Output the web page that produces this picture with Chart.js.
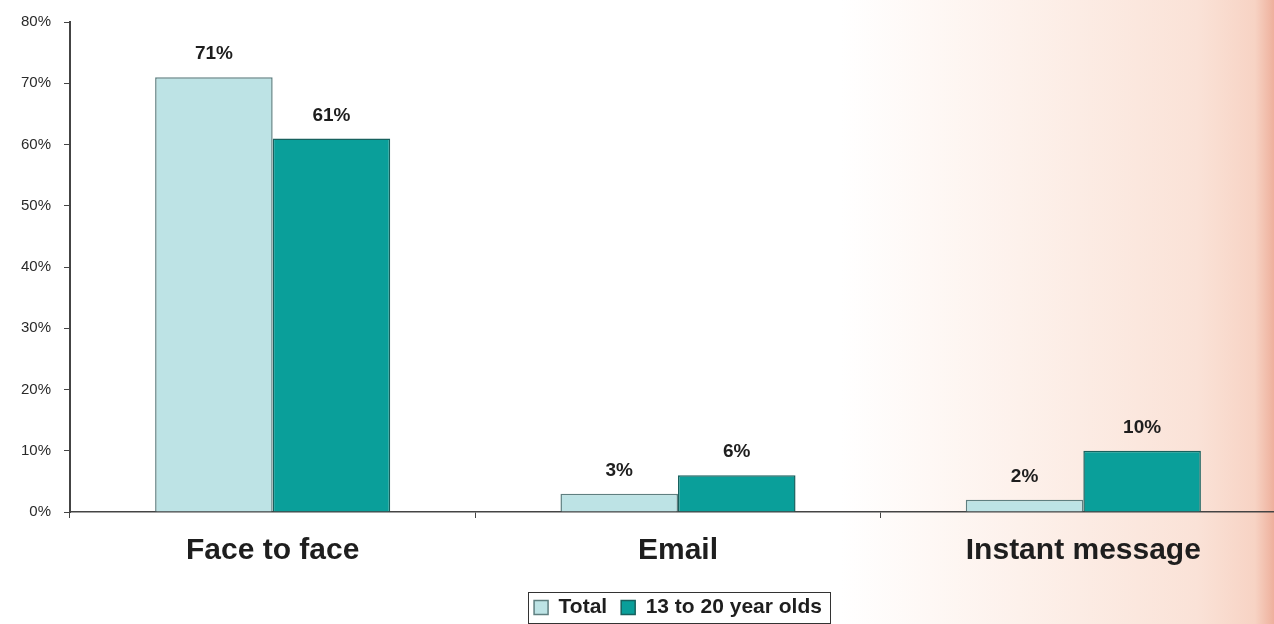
<!DOCTYPE html>
<html>
<head>
<meta charset="utf-8">
<script src="https://cdn.jsdelivr.net/npm/chart.js@4/dist/chart.umd.min.js"></script>
<style>
  html, body {
    margin: 0;
    padding: 0;
    overflow: hidden;
    width: 1274px;
    height: 624px;
    background: linear-gradient(to right, #ffffff 0%, #ffffff 66%, #fdf1eb 80%, #fae2d7 94%, #f7d3c4 98.5%, #eeb09c 100%);
  }
  canvas { display: block; }
</style>
</head>
<body>
<canvas id="myChart" width="1290" height="624"></canvas>
<script>
const categorias = ['Face to face', 'Email', 'Instant message'];
const totalValues = [71, 3, 2];
const jovenesValues = [61, 6, 10];
const yTicks = [0, 10, 20, 30, 40, 50, 60, 70, 80];

const COLORS = {
    light: '#bde3e5',
    lightBorder: '#5f7f80',
    teal: '#0a9f9a',
    tealBorder: '#17615e',
    text: '#1e1e1e',
    axis: '#444444'
};

// value labels over each bar
const barLabels = {
    id: 'barLabels',
    afterDatasetsDraw(chart) {
        const ctx = chart.ctx;
        ctx.save();
        ctx.font = 'bold 19px "Liberation Sans", Arial, sans-serif';
        ctx.fillStyle = COLORS.text;
        ctx.textAlign = 'center';
        ctx.textBaseline = 'middle';
        chart.data.datasets.forEach((ds, i) => {
            chart.getDatasetMeta(i).data.forEach((bar, j) => {
                ctx.fillText(ds.data[j] + '%', bar.x, bar.y - 23);
            });
        });
        ctx.restore();
    }
};

// thin frame round the legend
const legendFrame = {
    id: 'legendFrame',
    afterDraw(chart) {
        const boxes = chart.legend.legendHitBoxes;
        if (!boxes || !boxes.length) return;
        const first = boxes[0];
        const last = boxes[boxes.length - 1];
        const ctx = chart.ctx;
        ctx.save();
        ctx.strokeStyle = '#333';
        ctx.lineWidth = 1;
        const x1 = first.left - 6;
        const x2 = last.left + last.width + 8;
        const y1 = first.top - 5;
        const y2 = first.top + first.height + 5;
        ctx.strokeRect(Math.round(x1) + 0.5, Math.round(y1) + 0.5, Math.round(x2 - x1), Math.round(y2 - y1));
        ctx.restore();
    }
};

const ctx = document.getElementById('myChart').getContext('2d');

let graficoComunicacion = new Chart(ctx, {
    type: 'bar',
    data: {
        labels: categorias,
        datasets: [{
            label: 'Total',
            data: totalValues,
            backgroundColor: COLORS.light,
            borderColor: COLORS.lightBorder,
            borderWidth: 1.5,
            barPercentage: 1,
            categoryPercentage: 0.58
        }, {
            label: '13 to 20 year olds',
            data: jovenesValues,
            backgroundColor: COLORS.teal,
            borderColor: COLORS.tealBorder,
            borderWidth: 1.5,
            barPercentage: 1,
            categoryPercentage: 0.58
        }]
    },
    options: {
        responsive: false,
        animation: false,
        devicePixelRatio: 1,
        layout: {
            padding: { top: 20, right: 4, bottom: -4, left: 0 }
        },
        plugins: {
            tooltip: { enabled: false },
            legend: {
                position: 'bottom',
                fullSize: false,
                labels: {
                    boxWidth: 14,
                    boxHeight: 14,
                    padding: 14,
                    color: COLORS.text,
                    font: { family: '"Liberation Sans", Arial, sans-serif', size: 21, weight: 'bold' }
                }
            }
        },
        scales: {
            x: {
                afterFit(scale) { scale.height -= 1; },
                grid: {
                    drawOnChartArea: false,
                    tickLength: 6,
                    color: COLORS.axis
                },
                border: { color: COLORS.axis, width: 1.5 },
                ticks: {
                    padding: 15,
                    color: COLORS.text,
                    font: { family: '"Liberation Sans", Arial, sans-serif', size: 30, weight: 'bold' }
                }
            },
            y: {
                min: 0,
                max: 80,
                afterFit(scale) { scale.width = 70; },
                afterBuildTicks(scale) { scale.ticks = yTicks.map(v => ({ value: v })); },
                grid: {
                    drawOnChartArea: false,
                    tickLength: 6,
                    color: COLORS.axis
                },
                border: { color: COLORS.axis, width: 2 },
                ticks: {
                    padding: 13,
                    color: '#2a2a2a',
                    font: { family: '"Liberation Sans", Arial, sans-serif', size: 15 },
                    callback: (v) => v + '%'
                }
            }
        }
    },
    plugins: [barLabels, legendFrame]
});
</script>
</body>
</html>
